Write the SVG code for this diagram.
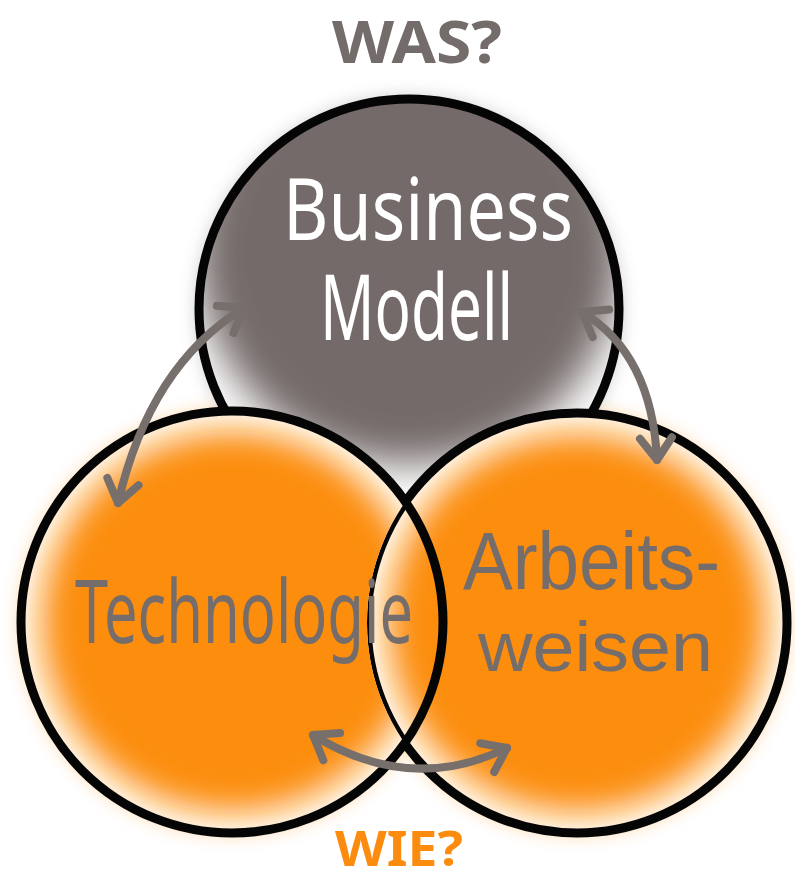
<svg xmlns="http://www.w3.org/2000/svg" width="795" height="882" viewBox="0 0 795 882">
  <defs>
    <style>
      .outline { fill: none; stroke: #050505; stroke-width: 9; }
      .base { fill: #ffffff; }
      .label { font-family: "Noto Sans", "Liberation Sans", sans-serif; font-weight: 400; }
      .label-tight { font-family: "Liberation Sans", Arial, sans-serif; font-weight: 400; }
      .grey-text { fill: #756d6b; }
      .white-text { fill: #ffffff; }
      .question { font-family: "Noto Sans", "Liberation Sans", sans-serif; font-weight: 700; }
      .conn { fill: none; stroke: #776f6c; stroke-width: 8; stroke-linecap: round; }
    </style>
    <filter id="blurBig" x="-30%" y="-30%" width="160%" height="160%">
      <feGaussianBlur stdDeviation="20"/>
    </filter>
    <filter id="blurMid" x="-30%" y="-30%" width="160%" height="160%">
      <feGaussianBlur stdDeviation="17"/>
    </filter>
    <filter id="halo" x="-30%" y="-30%" width="160%" height="160%">
      <feGaussianBlur stdDeviation="9"/>
    </filter>
    <clipPath id="clipTop"><circle cx="409" cy="309" r="210"/></clipPath>
    <clipPath id="clipLeft"><circle cx="232" cy="622" r="211"/></clipPath>
    <clipPath id="clipRight"><circle cx="577" cy="623" r="210"/></clipPath>
    <clipPath id="clipLeftXor">
      <path clip-rule="evenodd" d="M 21 622 A 211 211 0 1 0 443 622 A 211 211 0 1 0 21 622 Z M 367 623 A 210 210 0 1 0 787 623 A 210 210 0 1 0 367 623 Z"/>
    </clipPath>
    <marker id="chev" markerUnits="userSpaceOnUse" markerWidth="60" markerHeight="60" viewBox="-30 -30 60 60" refX="0" refY="0" orient="auto-start-reverse">
      <path d="M -22 -16 L 0 0 L -22 16" fill="none" stroke="#776f6c" stroke-width="8" stroke-linecap="round" stroke-linejoin="round"/>
    </marker>
  </defs>

  <rect x="0" y="0" width="795" height="882" fill="#ffffff"/>

  <g id="halos">
    <circle cx="409" cy="309" r="212" fill="#8a8380" opacity="0.45" filter="url(#halo)"/>
    <circle cx="232" cy="622" r="213" fill="#fb8c10" opacity="0.35" filter="url(#halo)"/>
    <circle cx="577" cy="623" r="212" fill="#fb8c10" opacity="0.35" filter="url(#halo)"/>
  </g>

  <g id="node-business">
    <g clip-path="url(#clipTop)">
      <circle class="base" cx="409" cy="309" r="210"/>
      <circle cx="409" cy="252" r="212" fill="#736b69" filter="url(#blurBig)"/>
    </g>
    <circle class="outline" cx="409" cy="309" r="210"/>
    <text class="label white-text" x="283" y="240" font-size="86" textLength="290" lengthAdjust="spacingAndGlyphs">Business</text>
    <text class="label white-text" x="320" y="340" font-size="92" textLength="193" lengthAdjust="spacingAndGlyphs">Modell</text>
  </g>

  <g id="node-arbeitsweisen">
    <g clip-path="url(#clipRight)">
      <circle class="base" cx="577" cy="623" r="210"/>
      <circle cx="577" cy="623" r="190" fill="#fc8d10" filter="url(#blurMid)"/>
    </g>
    <circle class="outline" cx="577" cy="623" r="210"/>
    <text class="label-tight grey-text" x="463" y="589" font-size="82" textLength="257" lengthAdjust="spacingAndGlyphs">Arbeits-</text>
    <text class="label-tight grey-text" x="478" y="671" font-size="71" textLength="235" lengthAdjust="spacingAndGlyphs">weisen</text>
  </g>

  <g id="node-technologie">
    <g clip-path="url(#clipLeft)">
      <g clip-path="url(#clipLeftXor)">
        <circle class="base" cx="232" cy="622" r="211"/>
        <circle cx="232" cy="622" r="191" fill="#fc8d10" filter="url(#blurMid)"/>
      </g>
    </g>
    <circle class="outline" cx="232" cy="622" r="211"/>
    <text class="label grey-text" x="75" y="643" font-size="88" textLength="338" lengthAdjust="spacingAndGlyphs">Technologie</text>
  </g>

  <g id="connectors">
    <path class="conn" d="M 244 308 Q 150 365 118 503" marker-start="url(#chev)" marker-end="url(#chev)"/>
    <path class="conn" d="M 582 312 Q 652 354 657 460" marker-start="url(#chev)" marker-end="url(#chev)"/>
    <path class="conn" d="M 313 735 Q 410 795 507 748" marker-start="url(#chev)" marker-end="url(#chev)"/>
  </g>

  <g id="label-was">
    <text class="question" x="332" y="63" font-size="60" fill="#746c6a" textLength="170" lengthAdjust="spacingAndGlyphs">WAS?</text>
  </g>
  <g id="label-wie">
    <text class="question" x="335" y="866" font-size="48" fill="#fb8c10" textLength="128" lengthAdjust="spacingAndGlyphs">WIE?</text>
  </g>
</svg>
